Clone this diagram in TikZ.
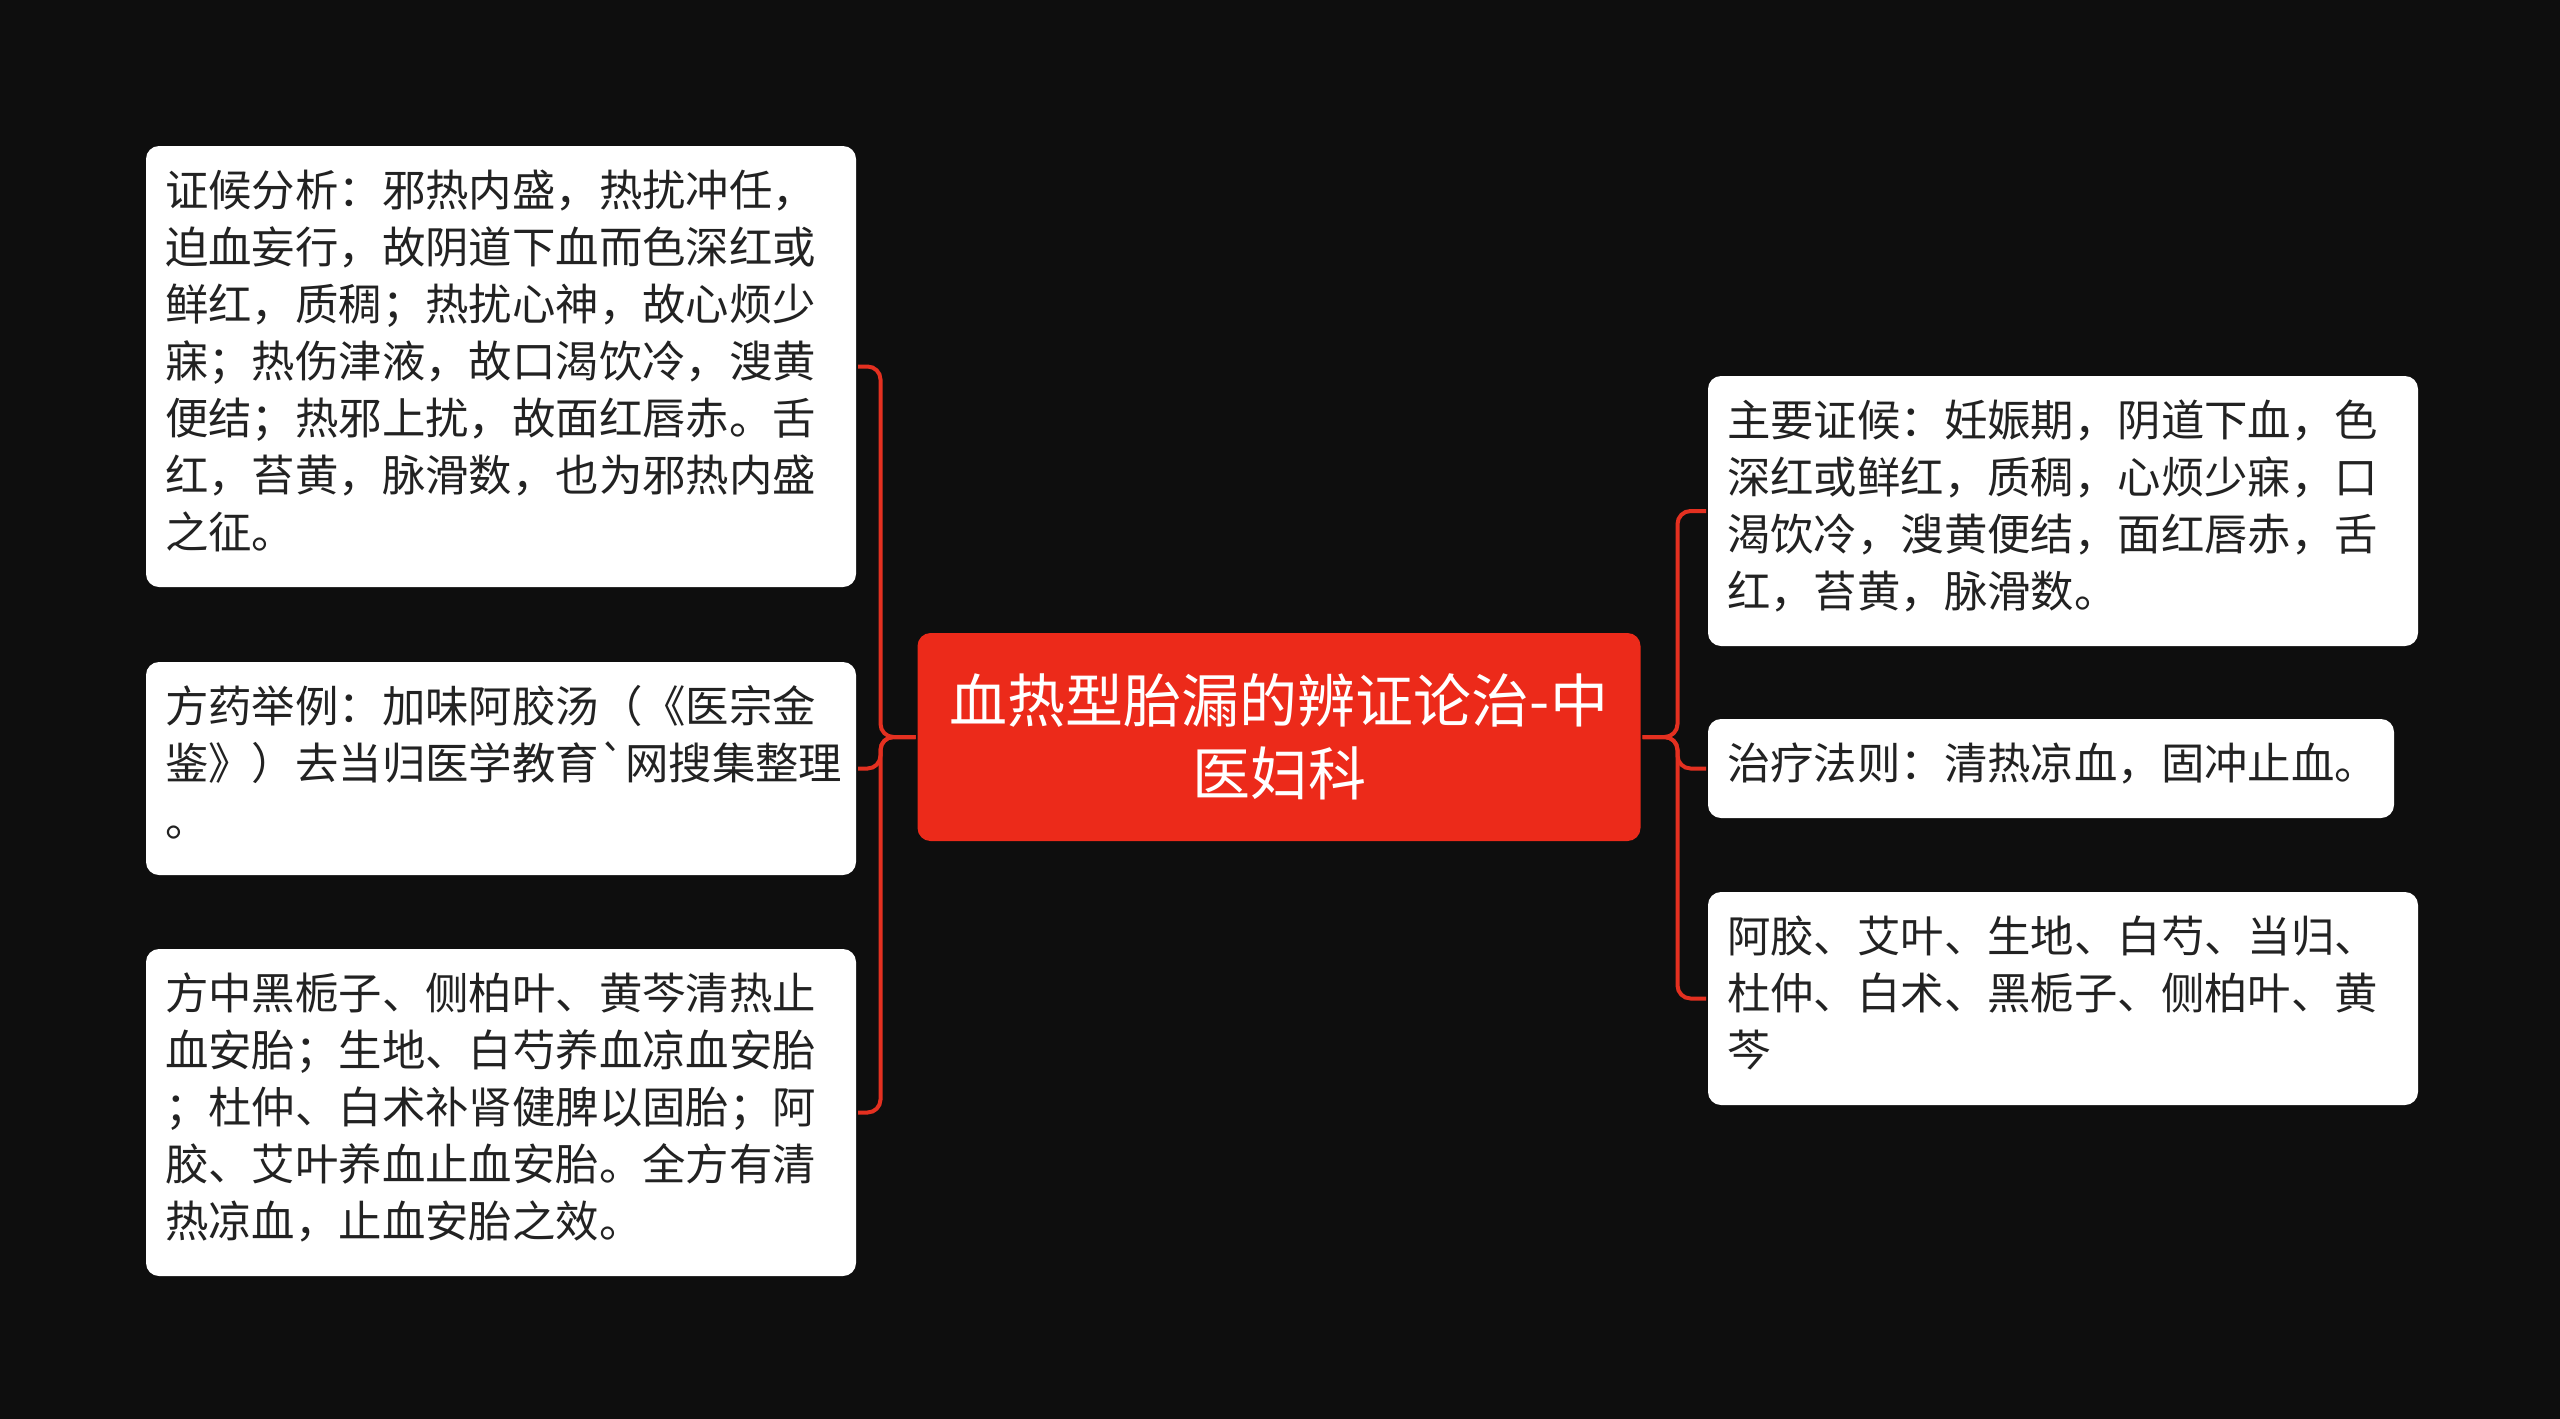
\documentclass[tikz,border=0pt]{standalone}
\usepackage{fontspec}
\newfontfamily\cjk{Noto Sans CJK SC}
\usetikzlibrary{arrows}
\definecolor{bg_dark}{RGB}{14,14,14}
\definecolor{node_red}{RGB}{236,42,26}
\definecolor{edge_red}{RGB}{228,48,32}
\definecolor{text_dark}{RGB}{34,34,34}

\begin{document}
\begin{tikzpicture}[x=0.5pt,y=-0.5pt,line width=2pt]
    \tikzstyle{box}=[fill=white, rounded corners=6.5pt, anchor=north west, align=left, text=text_dark, inner xsep=9.5pt, inner ysep=10.5pt, font=\cjk\fontsize{21.7pt}{28.5pt}\selectfont, execute at begin node=\strut, execute at end node=\strut]
    \tikzstyle{wide}=[style=box, text width=336pt]
    \tikzstyle{narrow}=[style=box, text width=324pt]
    \tikzstyle{root}=[fill=node_red, rounded corners=6.5pt, text=white, align=center, minimum width=361.5pt, minimum height=104pt, font=\cjk\fontsize{29pt}{36.5pt}\selectfont]
    \tikzstyle{toleft}=[edge_red, rounded corners=6.5pt, to path={-- ++(-35,0) |- (\tikztotarget)}]
    \tikzstyle{toright}=[edge_red, rounded corners=6.5pt, to path={-- ++(35,0) |- (\tikztotarget)}]

    \useasboundingbox (0,0) rectangle (2560,1419);
    \fill[bg_dark] (0,0) rectangle (2560,1419);

    \node[root] (root) at (1279,737) {血热型胎漏的辨证论治-中\\医妇科};

    % left side
    \node[wide] (analysis) at (144,144) {证候分析：邪热内盛，热扰冲任，\\迫血妄行，故阴道下血而色深红或\\鲜红，质稠；热扰心神，故心烦少\\寐；热伤津液，故口渴饮冷，溲黄\\便结；热邪上扰，故面红唇赤。舌\\红，苔黄，脉滑数，也为邪热内盛\\之征。};
    \node[wide] (recipe) at (144,660) {方药举例：加味阿胶汤（《医宗金\\鉴》）去当归医学教育`网搜集整理\\。};
    \node[wide] (herbs) at (144,947) {方中黑栀子、侧柏叶、黄芩清热止\\血安胎；生地、白芍养血凉血安胎\\；杜仲、白术补肾健脾以固胎；阿\\胶、艾叶养血止血安胎。全方有清\\热凉血，止血安胎之效。};

    % right side
    \node[wide] (symptom) at (1706,374) {主要证候：妊娠期，阴道下血，色\\深红或鲜红，质稠，心烦少寐，口\\渴饮冷，溲黄便结，面红唇赤，舌\\红，苔黄，脉滑数。};
    \node[narrow] (method) at (1706,717) {治疗法则：清热凉血，固冲止血。};
    \node[wide] (drugs) at (1706,890) {阿胶、艾叶、生地、白芍、当归、\\杜仲、白术、黑栀子、侧柏叶、黄\\芩};

    \path
     (root.west) edge[toleft] (analysis.east)
     (root.west) edge[toleft] (recipe.east)
     (root.west) edge[toleft] (herbs.east)
     (root.east) edge[toright] (symptom.west)
     (root.east) edge[toright] (method.west)
     (root.east) edge[toright] (drugs.west)
     ;
\end{tikzpicture}
\end{document}
